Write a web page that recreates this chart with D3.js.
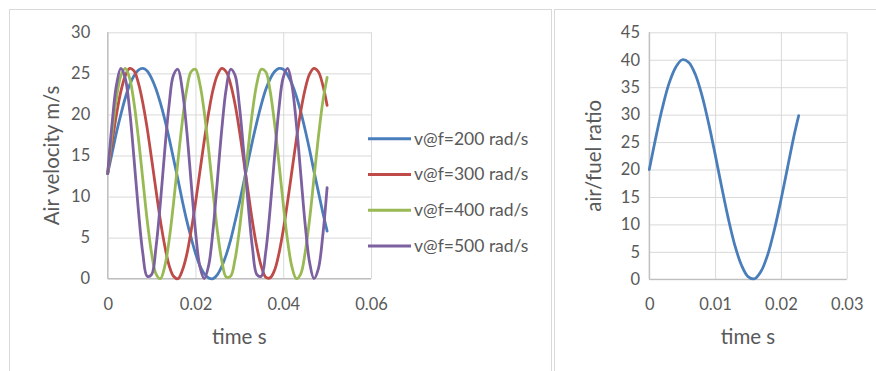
<!DOCTYPE html>
<html>
<head>
<meta charset="utf-8">
<script src="https://cdn.jsdelivr.net/npm/d3@7"></script>
<style>
  html, body { margin: 0; padding: 0; background: #fff; }
  svg { display: block; }
  text { font-family: Lato, "Open Sans", sans-serif; fill: #595959; }
</style>
</head>
<body>
<svg id="chart" width="876" height="371"></svg>
<script>
// ---- Left chart: air velocity vs time for four excitation frequencies ----
const time = [0, 0.001, 0.002, 0.003, 0.004, 0.005, 0.006, 0.007, 0.008, 0.009,
  0.010, 0.011, 0.012, 0.013, 0.014, 0.015, 0.016, 0.017, 0.018, 0.019,
  0.020, 0.021, 0.022, 0.023, 0.024, 0.025, 0.026, 0.027, 0.028, 0.029,
  0.030, 0.031, 0.032, 0.033, 0.034, 0.035, 0.036, 0.037, 0.038, 0.039,
  0.040, 0.041, 0.042, 0.043, 0.044, 0.045, 0.046, 0.047, 0.048, 0.049, 0.050];

const v200 = [12.8, 15.3, 17.8, 20.0, 22.0, 23.6, 24.7, 25.4, 25.6, 25.3,
  24.4, 23.1, 21.4, 19.4, 17.1, 14.6, 12.1, 9.5, 7.1, 5.0,
  3.1, 1.6, 0.6, 0.1, 0.0, 0.5, 1.5, 2.9, 4.7, 6.9,
  9.2, 11.7, 14.3, 16.8, 19.1, 21.2, 23.0, 24.3, 25.2, 25.6,
  25.5, 24.8, 23.7, 22.2, 20.3, 18.1, 15.7, 13.1, 10.6, 8.1, 5.8];

const v300 = [12.8, 16.6, 20.0, 22.8, 24.7, 25.6, 25.3, 23.8, 21.4, 18.3,
  14.6, 10.8, 7.1, 4.0, 1.6, 0.3, 0.0, 1.0, 2.9, 5.8,
  9.2, 13.0, 16.8, 20.2, 23.0, 24.8, 25.6, 25.2, 23.7, 21.3,
  18.1, 14.4, 10.6, 6.9, 3.8, 1.5, 0.2, 0.1, 1.0, 3.0,
  5.9, 9.4, 13.2, 17.0, 20.4, 23.1, 24.9, 25.6, 25.2, 23.6, 21.1];

const v400 = [12.8, 17.8, 22.0, 24.7, 25.6, 24.4, 21.4, 17.1, 12.1, 7.1,
  3.1, 0.6, 0.0, 1.5, 4.7, 9.2, 14.3, 19.1, 23.0, 25.2,
  25.5, 23.7, 20.3, 15.7, 10.6, 5.8, 2.2, 0.2, 0.3, 2.3,
  5.9, 10.7, 15.8, 20.4, 23.8, 25.5, 25.2, 22.9, 19.0, 14.2,
  9.1, 4.6, 1.4, 0.0, 0.6, 3.2, 7.2, 12.2, 17.2, 21.5, 24.5];

const v500 = [12.8, 18.9, 23.6, 25.6, 24.4, 20.5, 14.6, 8.3, 3.1, 0.3,
  0.5, 3.8, 9.2, 15.6, 21.2, 24.8, 25.5, 23.0, 18.1, 11.8,
  5.8, 1.5, 0.0, 1.6, 5.9, 12.0, 18.2, 23.1, 25.5, 24.8,
  21.1, 15.4, 9.1, 3.7, 0.5, 0.3, 3.2, 8.4, 14.7, 20.6,
  24.5, 25.6, 23.5, 18.8, 12.7, 6.6, 2.0, 0.0, 1.2, 5.2, 11.1];

const seriesNames = ["v@f=200 rad/s", "v@f=300 rad/s", "v@f=400 rad/s", "v@f=500 rad/s"];
const seriesValues = [v200, v300, v400, v500];
const seriesColors = ["#4A7EBB", "#BE4B48", "#98B954", "#7D60A0"];

const velXTicks = [0, 0.02, 0.04, 0.06];
const velYTicks = [0, 5, 10, 15, 20, 25, 30];

// ---- Right chart: air/fuel ratio vs time ----
const afTime = [0, 0.001, 0.002, 0.003, 0.004, 0.005, 0.006, 0.007, 0.008, 0.009,
  0.010, 0.011, 0.012, 0.013, 0.014, 0.015, 0.016, 0.017, 0.018, 0.019,
  0.020, 0.021, 0.022, 0.0227];
const afRatio = [20.0, 25.9, 31.3, 35.7, 38.6, 40.0, 39.5, 37.3, 33.5, 28.5,
  22.8, 16.8, 11.1, 6.2, 2.6, 0.5, 0.1, 1.5, 4.5, 9.0,
  14.4, 20.3, 26.2, 29.8];
const afColor = "#4A7EBB";

const afXTicks = [0, 0.01, 0.02, 0.03];
const afYTicks = [0, 5, 10, 15, 20, 25, 30, 35, 40, 45];

// ---- drawing ----
const svg = d3.select("#chart");
svg.append("rect").attr("width", 876).attr("height", 371).attr("fill", "#fff");

// chart frames
svg.append("rect").attr("x", 9.5).attr("y", 9.5).attr("width", 542).attr("height", 400)
  .attr("fill", "none").attr("stroke", "#D9D9D9");
svg.append("rect").attr("x", 554.5).attr("y", 9.5).attr("width", 400).attr("height", 400)
  .attr("fill", "none").attr("stroke", "#D9D9D9");

const TICK_FONT = 16.5;
const LEGEND_FONT = 17.5;
const TITLE_FONT = 20.5;
const gridColor = "#D9D9D9";
const axisColor = "#BFBFBF";

function drawPanel(opt) {
  const x = d3.scaleLinear().domain(opt.xDomain).range(opt.xRange);
  const y = d3.scaleLinear().domain(opt.yDomain).range(opt.yRange);
  const g = svg.append("g");

  // gridlines
  g.append("g")
    .attr("transform", `translate(${opt.xRange[0]},0)`)
    .call(d3.axisLeft(y).tickValues(opt.yTicks).tickSize(-(opt.xRange[1] - opt.xRange[0])).tickFormat(""))
    .call(s => s.select(".domain").remove())
    .call(s => s.selectAll("line").attr("stroke", gridColor).attr("stroke-width", 1));
  g.append("g")
    .attr("transform", `translate(0,${opt.yRange[0]})`)
    .call(d3.axisBottom(x).tickValues(opt.xTicks).tickSize(-(opt.yRange[0] - opt.yRange[1])).tickFormat(""))
    .call(s => s.select(".domain").remove())
    .call(s => s.selectAll("line").attr("stroke", gridColor).attr("stroke-width", 1));

  // axis lines
  g.append("line").attr("x1", opt.xRange[0]).attr("x2", opt.xRange[0])
    .attr("y1", opt.yRange[0]).attr("y2", opt.yRange[1])
    .attr("stroke", axisColor).attr("stroke-width", 1.3);
  g.append("line").attr("x1", opt.xRange[0]).attr("x2", opt.xRange[1])
    .attr("y1", opt.yRange[0]).attr("y2", opt.yRange[0])
    .attr("stroke", axisColor).attr("stroke-width", 1.3);

  // tick labels
  const yAx = g.append("g")
    .attr("transform", `translate(${opt.xRange[0]},0)`)
    .call(d3.axisLeft(y).tickValues(opt.yTicks).tickSize(0).tickPadding(opt.yPad).tickFormat(d3.format("d")));
  yAx.select(".domain").remove();
  yAx.selectAll("text").attr("font-size", TICK_FONT).attr("fill", "#595959")
    .attr("font-family", "Lato, sans-serif");

  const xAx = g.append("g")
    .attr("transform", `translate(0,${opt.yRange[0]})`)
    .call(d3.axisBottom(x).tickValues(opt.xTicks).tickSize(0).tickPadding(0).tickFormat(d => String(d)));
  xAx.select(".domain").remove();
  xAx.selectAll("text").attr("font-size", TICK_FONT).attr("fill", "#595959")
    .attr("font-family", "Lato, sans-serif").attr("dy", null).attr("y", opt.xLabelBase - opt.yRange[0]);

  // axis titles
  g.append("text")
    .attr("x", (opt.xRange[0] + opt.xRange[1]) / 2).attr("y", opt.xTitleBase)
    .attr("text-anchor", "middle").attr("font-size", TITLE_FONT)
    .text(opt.xTitle);
  g.append("text")
    .attr("transform", `translate(${opt.yTitleBase},${(opt.yRange[0] + opt.yRange[1]) / 2}) rotate(-90)`)
    .attr("text-anchor", "middle").attr("font-size", TITLE_FONT)
    .text(opt.yTitle);

  return { x, y, g };
}

const curve = d3.curveCatmullRom.alpha(0.5);

// left panel
const left = drawPanel({
  xDomain: [0, 0.06], xRange: [107.7, 371],
  yDomain: [0, 30], yRange: [278.7, 32.3],
  xTicks: velXTicks, yTicks: velYTicks,
  yPad: 17.5, xLabelBase: 310.5, xTitleBase: 343.5, yTitleBase: 58.5,
  xTitle: "time s", yTitle: "Air velocity m/s"
});

const velLine = d3.line()
  .x((d, i) => left.x(time[i]))
  .y(d => left.y(d))
  .curve(curve);

seriesValues.forEach((vals, k) => {
  left.g.append("path")
    .attr("d", velLine(vals))
    .attr("fill", "none")
    .attr("stroke", seriesColors[k])
    .attr("stroke-width", 2.8)
    .attr("stroke-linejoin", "round")
    .attr("stroke-linecap", "round");
});

// legend
const legend = svg.append("g");
const legendY = d3.scalePoint().domain(seriesNames).range([138.7, 246]);
seriesNames.forEach((name, k) => {
  const ly = legendY(name);
  legend.append("line").attr("x1", 368).attr("x2", 411).attr("y1", ly).attr("y2", ly)
    .attr("stroke", seriesColors[k]).attr("stroke-width", 3);
  legend.append("text").attr("x", 414).attr("y", ly + 5.8)
    .attr("font-size", LEGEND_FONT).text(name);
});

// right panel
const right = drawPanel({
  xDomain: [0, 0.03], xRange: [649.3, 846.7],
  yDomain: [0, 45], yRange: [279.3, 32.3],
  xTicks: afXTicks, yTicks: afYTicks,
  yPad: 9.3, xLabelBase: 310.5, xTitleBase: 343.5, yTitleBase: 601,
  xTitle: "time s", yTitle: "air/fuel ratio"
});

const afLine = d3.line()
  .x((d, i) => right.x(afTime[i]))
  .y(d => right.y(d))
  .curve(curve);

right.g.append("path")
  .attr("d", afLine(afRatio))
  .attr("fill", "none")
  .attr("stroke", afColor)
  .attr("stroke-width", 2.8)
  .attr("stroke-linejoin", "round")
  .attr("stroke-linecap", "round");
</script>
</body>
</html>
